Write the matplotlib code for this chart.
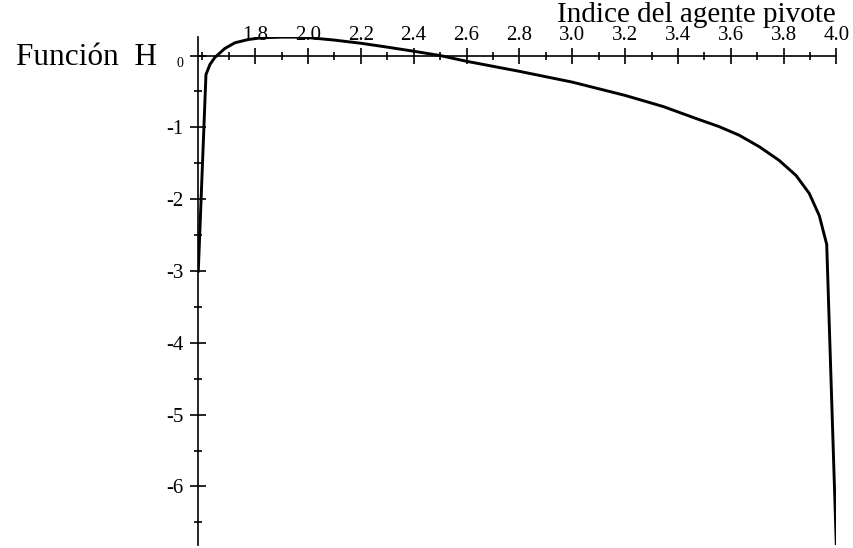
import matplotlib
matplotlib.use("Agg")
import matplotlib.pyplot as plt
from matplotlib.ticker import FixedLocator
from matplotlib.transforms import ScaledTranslation

plt.rcParams['font.family'] = ['Liberation Serif', 'DejaVu Serif']
plt.rcParams['axes.unicode_minus'] = False

# curve (x = pivot agent index, y = H)
x_vals = [1.585, 1.614, 1.629, 1.647, 1.66, 1.685, 1.723, 1.774, 1.824, 1.9,
          1.95, 2.0, 2.1, 2.2, 2.3, 2.4, 2.5, 2.6, 2.8, 3.0, 3.2, 3.344,
          3.471, 3.556, 3.632, 3.708, 3.783, 3.847, 3.897, 3.935, 3.963, 4.0]
h_vals = [-3.0, -0.265, -0.125, -0.03, 0.014, 0.097, 0.177, 0.223, 0.247, 0.256,
          0.256, 0.25, 0.215, 0.171, 0.117, 0.06, 0.0, -0.08, -0.22, -0.37,
          -0.555, -0.71, -0.88, -0.99, -1.11, -1.27, -1.46, -1.67, -1.92, -2.23,
          -2.63, -6.9]

x_major = [1.8, 2.0, 2.2, 2.4, 2.6, 2.8, 3.0, 3.2, 3.4, 3.6, 3.8, 4.0]
x_minor = [1.6, 1.7, 1.9, 2.1, 2.3, 2.5, 2.7, 2.9, 3.1, 3.3, 3.5, 3.7, 3.9]
y_major = [0, -1, -2, -3, -4, -5, -6]
y_minor = [-0.5, -1.5, -2.5, -3.5, -4.5, -5.5, -6.5]

fig = plt.figure(figsize=(8.54, 5.48), dpi=100)
ax = fig.add_axes([0.2322, 0.0055, 0.7473, 0.9275])

ax.plot(x_vals, h_vals, color='black', lw=2.1, solid_joinstyle='round')

ax.set_xlim(1.585, 4.0)
ax.set_ylim(-6.815, 0.262)

# maple style axes: x axis through y=0, y axis on the left edge
ax.spines['right'].set_visible(False)
ax.spines['bottom'].set_visible(False)
ax.spines['top'].set_position(('data', 0))
for s in ('top', 'left'):
    ax.spines[s].set_linewidth(1.2)

ax.xaxis.set_ticks_position('top')
ax.xaxis.set_major_locator(FixedLocator(x_major))
ax.xaxis.set_minor_locator(FixedLocator(x_minor))
ax.set_xticklabels([f'{v:.1f}' for v in x_major])
ax.yaxis.set_major_locator(FixedLocator(y_major))
ax.yaxis.set_minor_locator(FixedLocator(y_minor))
ax.set_yticklabels([str(v) for v in y_major])

ax.tick_params(which='both', direction='inout', width=1.2, colors='black')
ax.tick_params(which='major', length=11, labelsize=15)
ax.tick_params(axis='x', which='major', pad=2)
ax.tick_params(axis='y', which='major', pad=5)
ax.tick_params(which='minor', length=6)

# the zero label is printed smaller and a bit lower
zero_lbl = ax.get_yticklabels()[0]
zero_lbl.set_fontsize(10)
zero_lbl.set_transform(zero_lbl.get_transform()
                       + ScaledTranslation(0, -5 / 72, fig.dpi_scale_trans))

fig.text(157 / 854, 1 - 65 / 548, 'Función  H', ha='right', va='baseline',
         fontsize=22.5)
fig.text(836 / 854, 1 - 21.5 / 548, 'Indice del agente pivote', ha='right',
         va='baseline', fontsize=21)

fig.savefig('out.png', dpi=100)
